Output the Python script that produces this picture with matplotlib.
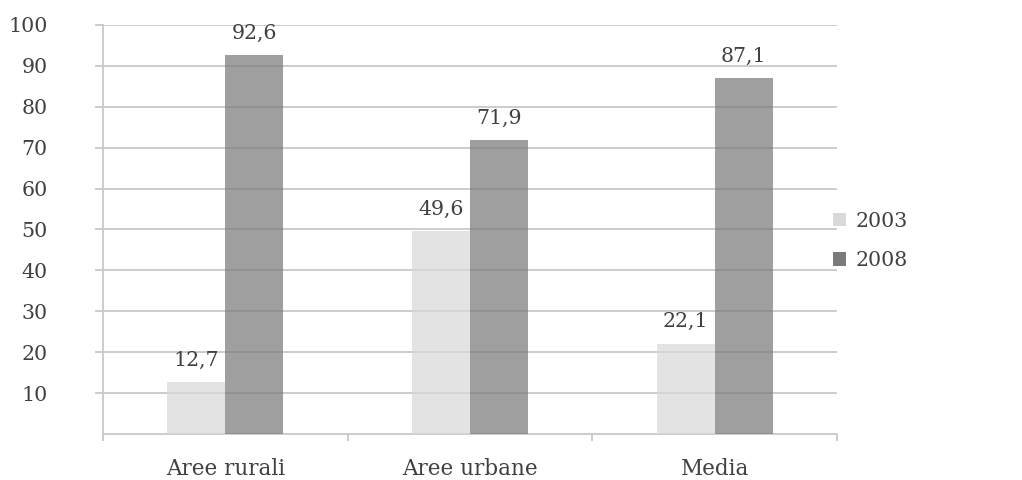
import matplotlib
matplotlib.use("Agg")
import matplotlib.pyplot as plt
import numpy as np

categories = ["Aree rurali", "Aree urbane", "Media"]
series_names = ["2003", "2008"]
values_2003 = [12.7, 49.6, 22.1]
values_2008 = [92.6, 71.9, 87.1]
yticks = [10, 20, 30, 40, 50, 60, 70, 80, 90, 100]

plt.rcParams["font.family"] = ["DejaVu Serif"]
text_color = "#404040"
line_color = "#c8c8c8"
colors = ["#d9d9d9", "#7a7a7a"]

fig = plt.figure(figsize=(10.22, 4.8), dpi=100)
ax = fig.add_axes([0.1008, 0.096, 0.7182, 0.852])

x = np.arange(len(categories))
w = 0.237
for i, (vals, name) in enumerate(zip([values_2003, values_2008], series_names)):
    pos = x + (i - 0.5) * w
    ax.bar(pos, vals, width=w, color=colors[i], alpha=0.72, label=name, zorder=3, linewidth=0)
    for px, v in zip(pos, vals):
        ax.text(px, v + 3.0, f"{v:.1f}".replace(".", ","), ha="center", va="bottom",
                fontsize=14.8, color=text_color)

ax.set_xlim(-0.5, len(categories) - 0.5)
ax.set_ylim(0, 100)
ax.set_yticks(yticks)
ax.set_yticklabels([str(t) for t in yticks], fontsize=14.8, color=text_color)
ax.yaxis.grid(True, color=line_color, linewidth=1.3, zorder=1)
ax.set_axisbelow(True)

ax.set_xticks(x)
ax.set_xticklabels(categories, fontsize=15.5, color=text_color)
ax.tick_params(axis="x", length=0, pad=17)
ax.set_xticks(np.arange(-0.5, len(categories)), minor=True)
ax.tick_params(axis="x", which="minor", length=5, color=line_color, width=1.3)
ax.tick_params(axis="y", length=6, color=line_color, width=1.3, pad=34)

for s in ["top", "right"]:
    ax.spines[s].set_visible(False)
for s in ["left", "bottom"]:
    ax.spines[s].set_color(line_color)
    ax.spines[s].set_linewidth(1.3)

handles, labels = ax.get_legend_handles_labels()
leg = fig.legend(handles, labels, loc="center left", bbox_to_anchor=(0.797, 0.498),
                 frameon=False, fontsize=14.8, handlelength=0.65, handleheight=0.65,
                 handletextpad=0.45, labelspacing=1.0, labelcolor=text_color)
for h in leg.legend_handles:
    h.set_alpha(1.0)

fig.savefig("out.png", dpi=100)
